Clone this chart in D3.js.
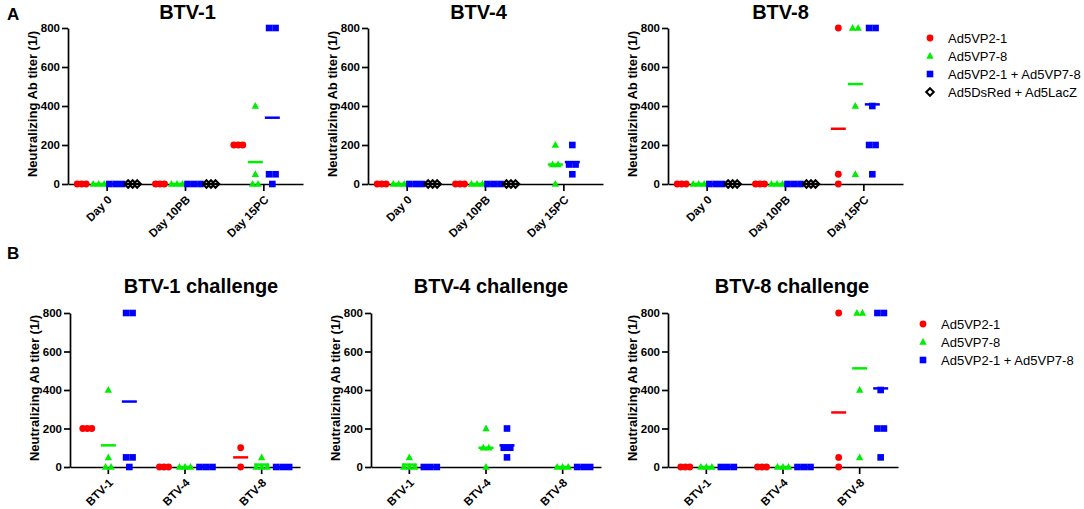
<!DOCTYPE html>
<html>
<head>
<meta charset="utf-8">
<script src="https://cdn.jsdelivr.net/npm/d3@7"></script>
<style>
  body { margin: 0; background: #fff; }
  svg { font-family: "Liberation Sans", Arial, sans-serif; }
</style>
</head>
<body>
<svg id="chart" width="1084" height="509"></svg>
<script>
// groups and categories
var seriesA = ["Ad5VP2-1", "Ad5VP7-8", "Ad5VP2-1 + Ad5VP7-8", "Ad5DsRed + Ad5LacZ"];
var seriesB = ["Ad5VP2-1", "Ad5VP7-8", "Ad5VP2-1 + Ad5VP7-8"];
var days = ["Day 0", "Day 10PB", "Day 15PC"];
var challenges = ["BTV-1", "BTV-4", "BTV-8"];
var yTicks = [0, 200, 400, 600, 800];

// titers[series][category] -> individual animals
var btv1Titers = [
    [[0, 0, 0], [0, 0, 0], [200, 200, 200]],
    [[0, 0, 0], [0, 0, 0], [400, 50, 0, 0]],
    [[0, 0, 0], [0, 0, 0], [800, 800, 50, 50, 0]],
    [[0, 0, 0], [0, 0, 0], []]
];
var btv4Titers = [
    [[0, 0, 0], [0, 0, 0], []],
    [[0, 0, 0], [0, 0, 0], [200, 100, 100, 0]],
    [[0, 0, 0], [0, 0, 0], [200, 100, 100, 50]],
    [[0, 0, 0], [0, 0, 0], []]
];
var btv8Titers = [
    [[0, 0, 0], [0, 0, 0], [800, 50, 0]],
    [[0, 0, 0], [0, 0, 0], [800, 800, 400, 50]],
    [[0, 0, 0], [0, 0, 0], [800, 800, 400, 200, 200, 50]],
    [[0, 0, 0], [0, 0, 0], []]
];
var ch1Titers = [
    [[200, 200, 200], [0, 0, 0], [100, 0]],
    [[400, 50, 0, 0], [0, 0, 0], [50, 0, 0, 0]],
    [[800, 800, 50, 50, 0], [0, 0, 0], [0, 0, 0]]
];
var ch4Titers = [
    [[], [], []],
    [[50, 0, 0, 0], [200, 100, 100, 0], [0, 0, 0]],
    [[0, 0, 0], [200, 100, 100, 50], [0, 0, 0]]
];
var ch8Titers = [
    [[0, 0, 0], [0, 0, 0], [800, 50, 0]],
    [[0, 0, 0], [0, 0, 0], [800, 800, 400, 50]],
    [[0, 0, 0], [0, 0, 0], [800, 800, 400, 200, 200, 50]]
];

var colors = ["#ff0000", "#00ee00", "#0000ff", "#000000"];
var shapes = ["circle", "triangle", "square", "diamond"];
var steps = [4.5, 5.5, 6.5, 4.5];   // horizontal spread of tied values

var svg = d3.select("#chart");

function marker(sel, i) {
    var c = colors[i];
    if (shapes[i] == "circle") {
        sel.append("circle").attr("r", 3.4).attr("fill", c);
    } else if (shapes[i] == "triangle") {
        sel.append("path").attr("d", "M0,-4L3.7,2.8L-3.7,2.8Z").attr("fill", c);
    } else if (shapes[i] == "square") {
        sel.append("rect").attr("x", -3.3).attr("y", -3.3).attr("width", 6.6).attr("height", 6.6).attr("fill", c);
    } else {
        sel.append("path").attr("d", "M0,-3.8L3.8,0L0,3.8L-3.8,0Z")
            .attr("fill", "#fff").attr("stroke", c).attr("stroke-width", 2);
    }
}

function drawPanel(p) {
    var g = svg.append("g");
    var x = d3.scaleBand().domain(p.cats).range([p.x0, p.x1]);
    var sub = d3.scalePoint().domain(d3.range(p.data.length)).range([-p.spread, p.spread]);
    var y = d3.scaleLinear().domain([0, 800]).range([p.yb, p.yt]);

    // title
    g.append("text")
        .attr("x", (p.x0 + p.x1) / 2 + p.tdx)
        .attr("y", p.ty)
        .attr("text-anchor", "middle")
        .attr("font-size", 20).attr("font-weight", "bold")
        .text(p.title);

    // y axis
    var ya = g.append("g")
        .attr("transform", "translate(" + p.x0 + ",0)")
        .call(d3.axisLeft(y).tickValues(yTicks).tickSize(6).tickSizeOuter(0).tickPadding(2));
    ya.select(".domain").attr("stroke-width", 1.7);
    ya.selectAll(".tick line").attr("stroke-width", 1.7);
    ya.selectAll("text").attr("font-size", 11.5).attr("font-weight", "bold")
        .attr("font-family", "Liberation Sans, Arial, sans-serif");

    g.append("text")
        .attr("transform", "translate(" + (p.x0 - 31) + "," + ((p.yt + p.yb) / 2 - 2) + ") rotate(-90)")
        .attr("text-anchor", "middle")
        .attr("font-size", 13).attr("font-weight", "bold")
        .text("Neutralizing Ab titer (1/)");

    // x axis
    var xa = g.append("g")
        .attr("transform", "translate(0," + p.yb + ")")
        .call(d3.axisBottom(x).tickSize(7).tickSizeOuter(0));
    xa.select(".domain").attr("stroke-width", 1.7);
    xa.selectAll(".tick line").attr("stroke-width", 1.7);
    xa.selectAll("text")
        .attr("font-size", 11.5).attr("font-weight", "bold")
        .attr("font-family", "Liberation Sans, Arial, sans-serif")
        .attr("text-anchor", "end")
        .attr("y", 0).attr("dy", "0.3em")
        .attr("transform", "translate(3,14) rotate(-45)");

    // points and mean lines
    p.data.forEach(function (ser, si) {
        ser.forEach(function (vals, ci) {
            if (!vals.length) return;
            var cx = x(p.cats[ci]) + x.bandwidth() / 2 + sub(si);
            var counts = d3.rollup(vals, v => v.length, v => v);
            var seen = new Map();
            vals.forEach(function (v) {
                var n = counts.get(v), k = seen.get(v) || 0;
                seen.set(v, k + 1);
                var off = (k - (n - 1) / 2) * steps[si];
                var m = g.append("g").attr("transform", "translate(" + (cx + off) + "," + y(v) + ")");
                marker(m, si);
            });
            var mean = d3.mean(vals);
            g.append("line")
                .attr("x1", cx - 7.5).attr("x2", cx + 7.5)
                .attr("y1", y(mean)).attr("y2", y(mean))
                .attr("stroke", colors[si]).attr("stroke-width", 2.5);
        });
    });
}

var panels = [
    {title: "BTV-1", x0: 68, x1: 303, yt: 28, yb: 184, ty: 19, cats: days, data: btv1Titers, spread: 25.5, tdx: 2},
    {title: "BTV-4", x0: 368, x1: 603, yt: 28, yb: 184, ty: 19, cats: days, data: btv4Titers, spread: 25.5, tdx: -7},
    {title: "BTV-8", x0: 668, x1: 903, yt: 28, yb: 184, ty: 19, cats: days, data: btv8Titers, spread: 25.5, tdx: -5},
    {title: "BTV-1 challenge", x0: 70, x1: 300, yt: 313, yb: 467, ty: 293, cats: challenges, data: ch1Titers, spread: 21, tdx: 16},
    {title: "BTV-4 challenge", x0: 371, x1: 601, yt: 313, yb: 467, ty: 293, cats: challenges, data: ch4Titers, spread: 21, tdx: 5},
    {title: "BTV-8 challenge", x0: 668, x1: 898, yt: 313, yb: 467, ty: 293, cats: challenges, data: ch8Titers, spread: 21, tdx: 9}
];
panels.forEach(drawPanel);

// panel letters
svg.append("text").attr("x", 7).attr("y", 20).attr("font-size", 17).attr("font-weight", "bold").text("A");
svg.append("text").attr("x", 7).attr("y", 259).attr("font-size", 17).attr("font-weight", "bold").text("B");

// legends
function legend(names, lx, ly) {
    var lg = svg.append("g").attr("transform", "translate(" + lx + "," + ly + ")");
    names.forEach(function (name, i) {
        var row = lg.append("g").attr("transform", "translate(0," + (i * 18) + ")");
        marker(row, i);
        row.append("text").attr("x", 18).attr("dy", "0.35em")
            .attr("font-size", 13).text(name);
    });
}
legend(seriesA, 930, 38);
legend(seriesB, 923, 324);
</script>
</body>
</html>
